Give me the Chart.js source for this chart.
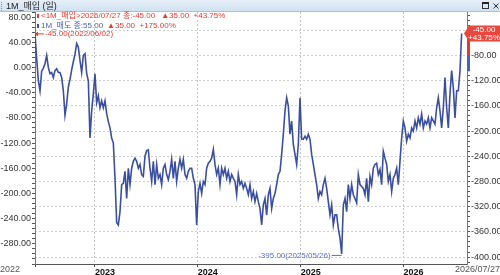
<!DOCTYPE html>
<html>
<head>
<meta charset="utf-8">
<script src="https://cdn.jsdelivr.net/npm/chart.js@4.4.1/dist/chart.umd.min.js"></script>
<style>
  html, body { margin: 0; padding: 0; background: #fff; }
  #wrap { width: 500px; height: 275px; }
</style>
</head>
<body>
<div id="wrap"><canvas id="chart" width="500" height="275"></canvas></div>
<script>
const title = '1M_매입 (일)';
const startDate = '2022/06/02';
const endDate = '2026/07/27';
const yearLabels = ['2023', '2024', '2025', '2026'];
const minDate = '2025/05/26';

// 1M_매입 close (evenly spaced from start to end date)
const buyClose = [
  -45, -85, -120, -136, -105, -100, -93, -80, -99, -109,
  -107, -115, -104, -101, -107, -107, -115, -136, -175, -157,
  -130, -118, -103, -90, -78, -61, -67, -88, -107, -80,
  -77, -109, -120, -211, -168, -141, -109, -155, -144, -163,
  -152, -163, -152, -172, -185, -195, -211, -219, -275, -345,
  -349, -328, -285, -283, -264, -307, -259, -285, -259, -248,
  -243, -248, -259, -253, -269,
  -272, -240, -231, -230, -259, -280, -248, -285, -253, -275,
  -269, -285, -259, -253, -269, -277, -264, -245, -275, -248,
  -280, -259, -245, -259, -245, -269, -275, -264, -259, -259,
  -275, -285, -349, -296, -283, -299, -280, -285, -259, -251,
  -248, -243, -229, -253, -269, -259, -285, -259, -269, -259,
  -275, -264, -280, -269, -275, -280, -301, -269, -285, -280,
  -291, -283,
  -291, -301, -285, -307, -296, -312, -299, -312, -323, -349,
  -317, -307, -333, -301, -291, -323, -307, -299, -285, -269,
  -264, -237, -205, -168, -147, -160, -205, -184, -221, -237,
  -253, -221, -147, -213, -213, -208, -213, -205, -213, -237,
  -253, -269, -285, -307, -296, -301, -285, -275, -291, -312,
  -333, -317, -349, -333, -333, -355, -370, -395, -317, -307,
  -328, -285, -307, -285, -301,
  -307, -314, -269, -285, -288, -291, -301, -275, -312, -272,
  -285, -259, -253, -251, -269, -261, -285, -232, -243, -253,
  -280, -269, -296, -275, -269, -259, -285, -248, -211, -184,
  -195, -216, -205, -211, -195, -200, -184, -195, -179, -189,
  -173, -195, -184, -189, -179, -195, -179, -184, -189, -163,
  -147, -168, -195, -163, -115, -163, -195, -141, -104, -131,
  -179, -136, -136, -104, -45
];

const legendBuy = ['<1M_매입>2026/07/27 종:-45.00', '▲35.00  +43.75%'];
const legendSell = ['1M_매도 종:55.00', '▲35.00  +175.00%'];
const badge = ['-45.00', '+43.75%'];
const prevBuy = -80;
const sellMark = [-80, -105];

const FONT = "'Liberation Sans', 'Noto Sans CJK KR', sans-serif";
const RED = '#e5392f';
const BLUE = '#3b4f9f';

const DAY = 86400000;
const toTime = s => { const p = s.split('/'); return Date.UTC(+p[0], +p[1] - 1, +p[2]); };
const t0 = toTime(startDate);
const spanDays = (toTime(endDate) - t0) / DAY;
const step = spanDays / (buyClose.length - 1);
const points = buyClose.map((v, i) => ({ x: i * step, y: v }));
const yearTicks = yearLabels.map(y => (Date.UTC(+y, 0, 1) - t0) / DAY);

// ticks every 8 units, labels every 40
const eightTicks = s => {
  const t = [];
  for (let v = Math.ceil(s.min / 8) * 8; v <= s.max; v += 8) t.push({ value: v });
  s.ticks = t;
};

const decor = {
  id: 'decor',
  beforeDraw(chart) {
    const c = chart.ctx;
    c.save();
    c.fillStyle = '#fff';
    c.fillRect(0, 0, chart.width, chart.height);
    const g = c.createLinearGradient(0, 0, 0, 12);
    g.addColorStop(0, '#e6eff8');
    g.addColorStop(1, '#cfe0f0');
    c.fillStyle = g;
    c.fillRect(0, 0, chart.width, 12);
    c.fillStyle = '#a9c2da';
    c.fillRect(0, 11, chart.width, 1);
    c.fillStyle = '#888';
    for (let yy = 2; yy < 11; yy += 2) c.fillRect(1, yy, 1, 1);
    c.font = '9px ' + FONT;
    c.fillStyle = '#222';
    c.textBaseline = 'middle';
    c.fillText(title, 6, 6.5);
    c.strokeStyle = '#333';
    c.lineWidth = 1;
    c.strokeRect(482.5, 2.5, 6, 6);
    c.fillRect(482, 2, 7, 2);
    c.beginPath();
    c.moveTo(493.5, 3.5); c.lineTo(498.5, 8.5);
    c.moveTo(498.5, 3.5); c.lineTo(493.5, 8.5);
    c.stroke();
    c.restore();
  },
  afterDraw(chart) {
    const c = chart.ctx;
    const x = chart.scales.x, y1 = chart.scales.y1;
    const area = chart.chartArea;
    c.save();
    c.font = '8px ' + FONT;
    c.textBaseline = 'middle';

    // legend
    c.fillStyle = RED;
    c.fillRect(37, 14, 2, 4);
    c.fillText(legendBuy[0], 41, 16);
    let w = c.measureText(legendBuy[0]).width;
    c.fillText(legendBuy[1], 41 + w + 6, 16);
    c.fillStyle = BLUE;
    c.fillRect(37, 24, 2, 4);
    c.fillStyle = '#4a63ad';
    c.fillText(legendSell[0], 41, 26);
    w = c.measureText(legendSell[0]).width;
    c.fillStyle = RED;
    c.fillText(legendSell[1], 41 + w + 4, 26);

    // max marker at start
    let maxI = 0, minI = 0;
    buyClose.forEach((v, i) => { if (v > buyClose[maxI]) maxI = i; if (v < buyClose[minI]) minI = i; });
    const mx = x.getPixelForValue(points[maxI].x), my = y1.getPixelForValue(buyClose[maxI]);
    c.strokeStyle = RED; c.fillStyle = RED; c.lineWidth = 1;
    c.beginPath(); c.moveTo(mx, my + 0.5); c.lineTo(mx + 9, my + 0.5); c.stroke();
    c.beginPath(); c.moveTo(mx, my + 0.5); c.lineTo(mx + 3, my - 2); c.lineTo(mx + 3, my + 3); c.fill();
    c.fillText(buyClose[maxI].toFixed(2) + '(' + startDate + ')', mx + 10, my + 0.5);

    // min marker
    const nx = x.getPixelForValue(points[minI].x), ny = y1.getPixelForValue(buyClose[minI]);
    c.strokeStyle = '#5a70b8'; c.fillStyle = '#5a70b8';
    c.beginPath(); c.moveTo(nx, ny + 1.5); c.lineTo(nx - 10, ny + 1.5); c.stroke();
    c.textAlign = 'right';
    c.fillText(buyClose[minI].toFixed(2) + '(' + minDate + ')', nx - 11, ny + 1.5);

    // side marks on right axis
    const last = buyClose[buyClose.length - 1];
    c.fillStyle = '#4a63ad';
    c.fillRect(area.right, y1.getPixelForValue(sellMark[0]), 3, y1.getPixelForValue(sellMark[1]) - y1.getPixelForValue(sellMark[0]));
    c.fillStyle = RED;
    c.fillRect(area.right, y1.getPixelForValue(last), 3, y1.getPixelForValue(prevBuy) - y1.getPixelForValue(last));

    // last value badge
    const by = y1.getPixelForValue(last);
    c.fillStyle = '#e8473d';
    c.beginPath();
    c.moveTo(area.right - 3, by);
    c.lineTo(area.right + 2, by - 8);
    c.lineTo(chart.width, by - 8);
    c.lineTo(chart.width, by + 8);
    c.lineTo(area.right + 2, by + 8);
    c.closePath();
    c.fill();
    c.fillStyle = '#fff';
    c.textAlign = 'center';
    c.fillText(badge[0], area.right + 17, by - 3.5);
    c.fillText(badge[1], area.right + 17, by + 4);

    // outer date labels
    c.font = '9px ' + FONT;
    c.fillStyle = '#555';
    c.textAlign = 'left';
    c.fillText(startDate.slice(0, 4), 0, 270);
    c.textAlign = 'right';
    c.fillText(endDate, chart.width, 270);
    c.restore();
  }
};

new Chart(document.getElementById('chart'), {
  type: 'line',
  data: {
    datasets: [{
      label: '1M_매입',
      data: points,
      yAxisID: 'y1',
      borderColor: BLUE,
      borderWidth: 1.6,
      pointRadius: 0,
      tension: 0
    }]
  },
  options: {
    responsive: false,
    animation: false,
    layout: { padding: { top: 12, left: 0, right: 0, bottom: 0 } },
    plugins: { legend: { display: false }, tooltip: { enabled: false } },
    scales: {
      x: {
        type: 'linear',
        min: 0,
        max: spanDays + 19,
        afterBuildTicks: s => { s.ticks = [0].concat(yearTicks).map(v => ({ value: v })); },
        afterFit: s => { s.height = 11; },
        ticks: {
          autoSkip: false,
          maxRotation: 0,
          align: 'start',
          padding: 0,
          color: '#111',
          font: { family: FONT, size: 9, weight: 'bold' },
          callback: (v, i) => i === 0 ? '' : yearLabels[i - 1]
        },
        grid: {
          color: ctx => ctx.tick && ctx.tick.value > 0 ? '#c4c4c4' : 'transparent',
          tickColor: '#444',
          tickLength: 3
        },
        border: { color: '#555', dash: [2, 2] }
      },
      y: {
        position: 'left',
        min: -312,
        max: 88,
        afterBuildTicks: eightTicks,
        afterFit: s => { s.width = 35; },
        ticks: {
          autoSkip: false,
          padding: 1,
          color: '#333',
          font: { family: FONT, size: 9 },
          callback: v => v % 40 === 0 ? v.toFixed(2) : ''
        },
        grid: { drawOnChartArea: false, tickLength: 3, tickColor: '#555' },
        border: { color: '#777' }
      },
      y1: {
        position: 'right',
        min: -411,
        max: -11,
        afterBuildTicks: eightTicks,
        afterFit: s => { s.width = 33; },
        ticks: {
          autoSkip: false,
          padding: 1,
          color: '#333',
          font: { family: FONT, size: 9 },
          callback: v => (v % 40 === 0 && v <= -80) ? v.toFixed(2) : ''
        },
        grid: {
          color: ctx => ctx.tick && ctx.tick.value % 40 === 0 ? '#cfcfcf' : 'transparent',
          tickColor: '#555',
          tickLength: 3
        },
        border: { color: '#777', dash: [2, 2] }
      }
    }
  },
  plugins: [decor]
});
</script>
</body>
</html>
